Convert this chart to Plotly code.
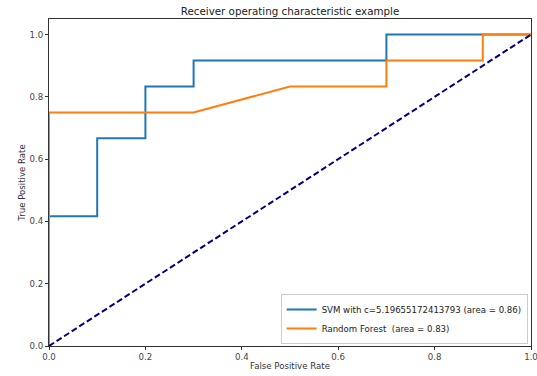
import plotly.graph_objects as go

svm_fpr = [0.0, 0.0, 0.1, 0.1, 0.2, 0.2, 0.3, 0.3, 0.7, 0.7, 1.0]
svm_tpr = [0.0, 0.4167, 0.4167, 0.6667, 0.6667, 0.8333, 0.8333, 0.9167, 0.9167, 1.0, 1.0]
rf_fpr = [0.0, 0.0, 0.3, 0.5, 0.7, 0.7, 0.9, 0.9, 1.0]
rf_tpr = [0.0, 0.75, 0.75, 0.8333, 0.8333, 0.9167, 0.9167, 1.0, 1.0]
diag = [0.0, 1.0]
svm_name = "SVM with c=5.19655172413793 (area = 0.86)"
rf_name = "Random Forest  (area = 0.83)"
ticks = [0.0, 0.2, 0.4, 0.6, 0.8, 1.0]
tick_text = ["0.0", "0.2", "0.4", "0.6", "0.8", "1.0"]

FONT = "DejaVu Sans"

fig = go.Figure()
fig.add_trace(go.Scatter(x=svm_fpr, y=svm_tpr, mode="lines", name=svm_name,
                         line=dict(color="#1f77b4", width=2)))
fig.add_trace(go.Scatter(x=rf_fpr, y=rf_tpr, mode="lines", name=rf_name,
                         line=dict(color="#ff7f0e", width=2)))
fig.add_trace(go.Scatter(x=diag, y=diag, mode="lines", showlegend=False,
                         line=dict(color="navy", width=2, dash="6px,3px")))

axis_common = dict(showgrid=False, zeroline=False, showline=True, linecolor="#333",
                   linewidth=1, mirror=True, ticks="outside", ticklen=3, tickcolor="#333",
                   automargin=False, ticklabeloverflow="allow",
                   tickfont=dict(family=FONT, size=8.6, color="#444"),
                   tickvals=ticks, ticktext=tick_text)

fig.update_layout(
    width=537, height=376,
    margin=dict(l=49, r=6, t=19, b=30),
    paper_bgcolor="white", plot_bgcolor="white",
    title=dict(text="Receiver operating characteristic example", x=290 / 537,
               xanchor="center", y=1 - 11 / 376, yanchor="middle",
               font=dict(family=FONT, size=10.3, color="#222")),
    xaxis=dict(range=[0, 1.0], title=dict(text="False Positive Rate", standoff=1,
               font=dict(family=FONT, size=8.6, color="#333")), **axis_common),
    yaxis=dict(range=[0, 1.05], title=dict(text="True Positive Rate", standoff=2,
               font=dict(family=FONT, size=8.6, color="#333")), **axis_common),
    legend=dict(x=0.993, y=0.006, xanchor="right", yanchor="bottom",
                bgcolor="rgba(255,255,255,0.8)", bordercolor="#ccc", borderwidth=1,
                font=dict(family=FONT, size=8.6, color="#222"),
                tracegroupgap=0, itemwidth=30),
)

fig.write_html("out.html")
